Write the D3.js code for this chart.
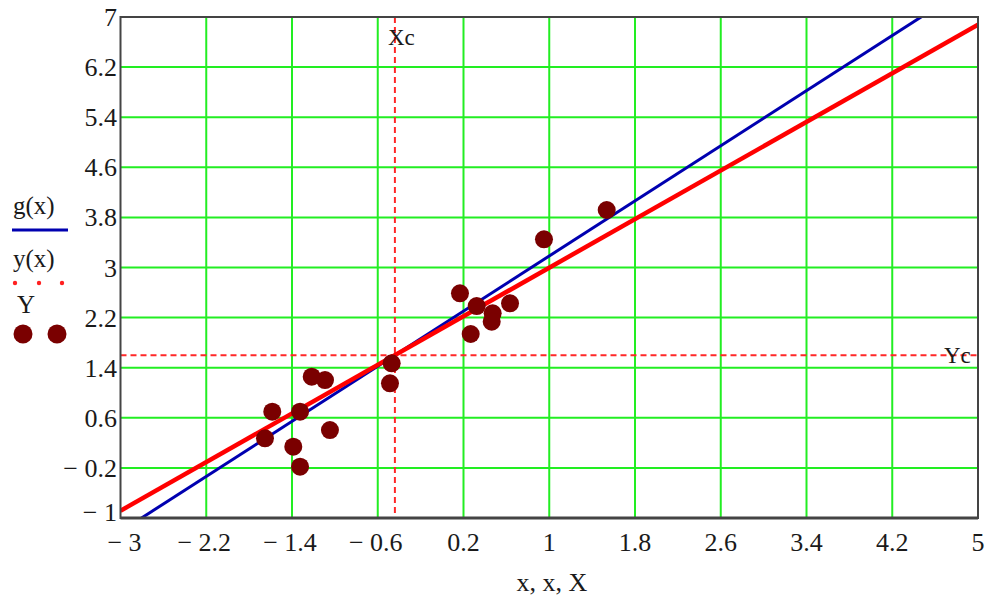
<!DOCTYPE html>
<html>
<head>
<meta charset="utf-8">
<script src="https://cdn.jsdelivr.net/npm/d3@7"></script>
<style>
  html, body { margin: 0; padding: 0; background: #fff; }
  svg { display: block; }
  text { font-family: "Liberation Serif", "Times New Roman", serif; fill: #1a1a1a; }
</style>
</head>
<body>
<svg id="chart" width="995" height="599"></svg>
<script>
// ---- data ----
const xTicks = [-3, -2.2, -1.4, -0.6, 0.2, 1, 1.8, 2.6, 3.4, 4.2, 5];
const yTicks = [-1, -0.2, 0.6, 1.4, 2.2, 3, 3.8, 4.6, 5.4, 6.2, 7];
const pointsX = [-1.652, -1.584, -1.388, -1.325, -1.325, -1.216, -1.092, -1.046, -0.470, -0.486,
                 0.167, 0.323, 0.634, 0.472, 0.463, 0.267, 0.951, 1.536];
const pointsY = [0.273, 0.697, 0.138, -0.181, 0.697, 1.256, 1.203, 0.405, 1.470, 1.151,
                 2.588, 2.385, 2.428, 2.268, 2.134, 1.938, 3.450, 3.918];
const Xc = -0.44, Yc = 1.60;
const slopeG = 1.10;   // g(x) blue
const slopeY = 0.97;   // y(x) red
const legendLabels = ["g(x)", "y(x)", "Y"];
const xTitle = "x, x, X";

// ---- layout ----
const svg = d3.select("#chart");
const L = 120.5, R = 978, T = 17, B = 518;
const x = d3.scaleLinear().domain([-3, 5]).range([L, R]);
const y = d3.scaleLinear().domain([-1, 7]).range([B, T]);
const fmt = v => {
  const s = String(Math.round(v * 10) / 10);
  return v < 0 ? "\u2212 " + s.slice(1) : s;
};

svg.append("clipPath").attr("id", "clip")
  .append("rect").attr("x", L).attr("y", T).attr("width", R - L).attr("height", B - T);

// grid
const grid = svg.append("g");
grid.selectAll(".vx").data(xTicks.slice(1, -1)).enter().append("line")
  .attr("x1", d => x(d)).attr("x2", d => x(d)).attr("y1", T).attr("y2", B)
  .attr("stroke", "#22ee22").attr("stroke-width", 2);
grid.selectAll(".hy").data(yTicks.slice(1, -1)).enter().append("line")
  .attr("y1", d => y(d)).attr("y2", d => y(d)).attr("x1", L).attr("x2", R)
  .attr("stroke", "#22ee22").attr("stroke-width", 2);

const plot = svg.append("g").attr("clip-path", "url(#clip)");

// center dashed lines
plot.append("line").attr("x1", x(Xc)).attr("x2", x(Xc)).attr("y1", T).attr("y2", B)
  .attr("stroke", "#ff2828").attr("stroke-width", 2).attr("stroke-dasharray", "6,4");
plot.append("line").attr("x1", L).attr("x2", R).attr("y1", y(Yc)).attr("y2", y(Yc))
  .attr("stroke", "#ff2828").attr("stroke-width", 2).attr("stroke-dasharray", "6,4");

// lines
const dom = [-3, 5];
const g = v => Yc + slopeG * (v - Xc);
const yy = v => Yc + slopeY * (v - Xc);
const line = d3.line().x(d => x(d[0])).y(d => y(d[1]));
plot.append("path").datum(dom.map(v => [v, g(v)])).attr("d", line)
  .attr("fill", "none").attr("stroke", "#0000b0").attr("stroke-width", 3);
plot.append("path").datum(dom.map(v => [v, yy(v)])).attr("d", line)
  .attr("fill", "none").attr("stroke", "#ff0000").attr("stroke-width", 4.5);

// points
plot.selectAll(".pt").data(pointsX.map((v, i) => [v, pointsY[i]])).enter().append("circle")
  .attr("cx", d => x(d[0])).attr("cy", d => y(d[1])).attr("r", 9)
  .attr("fill", "#7a0000");

// frame
svg.append("rect").attr("x", L).attr("y", T).attr("width", R - L).attr("height", B - T)
  .attr("fill", "none").attr("stroke", "#444").attr("stroke-width", 2);
svg.append("line").attr("x1", L).attr("x2", R).attr("y1", B).attr("y2", B)
  .attr("stroke", "#444").attr("stroke-width", 3);

// tick labels
svg.selectAll(".xt").data(xTicks).enter().append("text")
  .attr("x", d => x(d) + (d === -3 ? 4 : (d < 0 ? -2 : 0))).attr("y", 551)
  .attr("text-anchor", "middle").style("font-size", "26px").text(fmt);
svg.selectAll(".yt").data(yTicks).enter().append("text")
  .attr("x", 117).attr("y", d => y(d) + (d === -1 ? 3 : 9))
  .attr("text-anchor", "end").style("font-size", "26px").text(fmt);

// axis title
svg.append("text").attr("x", 552).attr("y", 591).attr("text-anchor", "middle")
  .style("font-size", "26px").text(xTitle);

// Xc / Yc labels
svg.append("text").attr("x", x(Xc) - 7).attr("y", 45).style("font-size", "23px").text("Xc");
svg.append("text").attr("x", 944).attr("y", 363).style("font-size", "23px").text("Yc");

// legend
svg.append("text").attr("x", 13).attr("y", 214).style("font-size", "25px").text(legendLabels[0]);
svg.append("line").attr("x1", 12).attr("x2", 68).attr("y1", 230).attr("y2", 230)
  .attr("stroke", "#0000b0").attr("stroke-width", 3);
svg.append("text").attr("x", 13).attr("y", 267).style("font-size", "25px").text(legendLabels[1]);
svg.selectAll(".ld").data([15, 39, 62]).enter().append("circle")
  .attr("cx", d => d).attr("cy", 283).attr("r", 2.2).attr("fill", "#ff2020");
svg.append("text").attr("x", 17).attr("y", 313).style("font-size", "25px").text(legendLabels[2]);
svg.selectAll(".lp").data([23, 57]).enter().append("circle")
  .attr("cx", d => d).attr("cy", 334).attr("r", 9.5).attr("fill", "#7a0000");
</script>
</body>
</html>
